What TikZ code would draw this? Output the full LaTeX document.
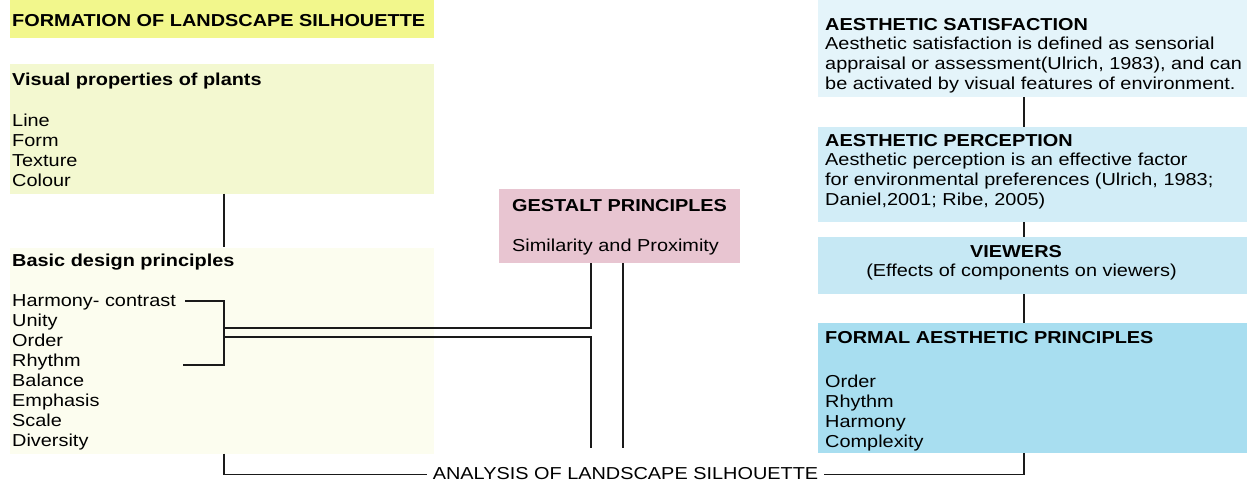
\documentclass[tikz,border=0pt]{standalone}
\usepackage{fontspec}
\setmainfont{Liberation Sans}[FakeStretch=1.15]
\definecolor{titleY}{HTML}{F2F78C}
\definecolor{visY}{HTML}{F3F8D0}
\definecolor{basY}{HTML}{FCFDEF}
\definecolor{gestP}{HTML}{E8C5D1}
\definecolor{satB}{HTML}{E4F4FA}
\definecolor{perB}{HTML}{D2EDF7}
\definecolor{vieB}{HTML}{C6E8F4}
\definecolor{formB}{HTML}{A8DEF0}
\definecolor{lineC}{HTML}{1A1A1A}
\begin{document}
\begin{tikzpicture}[x=1pt,y=-1pt,
  box/.style={draw=none, inner sep=0pt, anchor=north west},
  txt/.style={inner sep=0pt, anchor=base west, align=left, text=black,
    font=\fontsize{17.3}{20}\selectfont},
  hd/.style={txt, font=\fontsize{17.3}{20}\selectfont\bfseries},
  conn/.style={draw=lineC, line width=1.8pt}]
\useasboundingbox (0,0) rectangle (1249,487);
% boxes
\node[box, fill=titleY, minimum width=424pt, minimum height=38.3pt] (title) at (10,0) {};
\node[box, fill=visY, minimum width=424pt, minimum height=130pt] (vis) at (10,63.3) {};
\node[box, fill=basY, minimum width=424pt, minimum height=206pt] (bas) at (10,247.3) {};
\node[box, fill=gestP, minimum width=241pt, minimum height=74pt] (gest) at (499,189) {};
\node[box, fill=satB, minimum width=429pt, minimum height=97pt] (sat) at (818,0) {};
\node[box, fill=perB, minimum width=429pt, minimum height=95pt] (per) at (818,127) {};
\node[box, fill=vieB, minimum width=429pt, minimum height=57pt] (vie) at (818,237) {};
\node[box, fill=formB, minimum width=429pt, minimum height=130pt] (form) at (818,323) {};
% texts (multi-line nodes are placed by the baseline of their last line)
\node[hd] (titletxt) at (12,26.5) {FORMATION OF LANDSCAPE SILHOUETTE};
\node[hd] (vishead) at (12,85.7) {Visual properties of plants};
\node[txt] (vislist) at (12,186.7) {Line\\Form\\Texture\\Colour};
\node[hd] (bashead) at (12,266) {Basic design principles};
\node[txt] (baslist) at (12,446) {Harmony- contrast\\Unity\\Order\\Rhythm\\Balance\\Emphasis\\Scale\\Diversity};
\node[hd] (gesthead) at (512,211) {GESTALT PRINCIPLES};
\node[txt] (gesttxt) at (512,251.5) {Similarity and Proximity};
\node[hd] (sathead) at (825,30.5) {AESTHETIC SATISFACTION};
\node[txt] (sattxt) at (825,89.5) {Aesthetic satisfaction is defined as sensorial\\appraisal or assessment(Ulrich, 1983), and can\\be activated by visual features of environment.};
\node[hd] (perhead) at (825,146) {AESTHETIC PERCEPTION};
\node[txt] (pertxt) at (825,205.7) {Aesthetic perception is an effective factor\\for environmental preferences (Ulrich, 1983;\\Daniel,2001; Ribe, 2005)};
\node[hd, anchor=base] (viehead) at (1016,257.3) {VIEWERS};
\node[txt, anchor=base] (vietxt) at (1021.5,276.7) {(Effects of components on viewers)};
\node[hd] (formhead) at (825,343.3) {FORMAL AESTHETIC PRINCIPLES};
\node[txt] (formlist) at (825,447) {Order\\Rhythm\\Harmony\\Complexity};
\node[txt, anchor=base, inner xsep=6pt] (analysis) at (625.5,479) {ANALYSIS OF LANDSCAPE SILHOUETTE};
% helper coordinates
\coordinate (bx) at (224,0);
\coordinate (gl) at (591,0);
\coordinate (gr) at (623,0);
\coordinate (rx) at (1024,0);
\coordinate (by) at (0,474.5);
\coordinate (gend) at (0,448);
\coordinate (h1) at (185,301);
\coordinate (h2) at (224,301);
\coordinate (r1) at (183,365);
\coordinate (r2) at (224,365);
\coordinate (j1) at (224,328);
\coordinate (j2) at (224,337);
% connectors
\draw[conn] (vis.south -| bx) -- (bas.north -| bx);
\draw[conn] (h1) -- (h2) -- (r2) -- (r1);
\draw[conn, line width=1.5pt] (j1) -- (j1 -| gl) -- (gest.south -| gl);
\draw[conn, line width=1.5pt] (j2) -- (j2 -| gl) -- (gl |- gend);
\draw[conn, line width=1.5pt] (gest.south -| gr) -- (gr |- gend);
\draw[conn] (bas.south -| bx) -- (bx |- by) -- (by -| analysis.west);
\draw[conn] (by -| analysis.east) -- (rx |- by) -- (form.south -| rx);
\draw[conn] (sat.south -| rx) -- (per.north -| rx);
\draw[conn] (per.south -| rx) -- (vie.north -| rx);
\draw[conn] (vie.south -| rx) -- (form.north -| rx);
\end{tikzpicture}
\end{document}
